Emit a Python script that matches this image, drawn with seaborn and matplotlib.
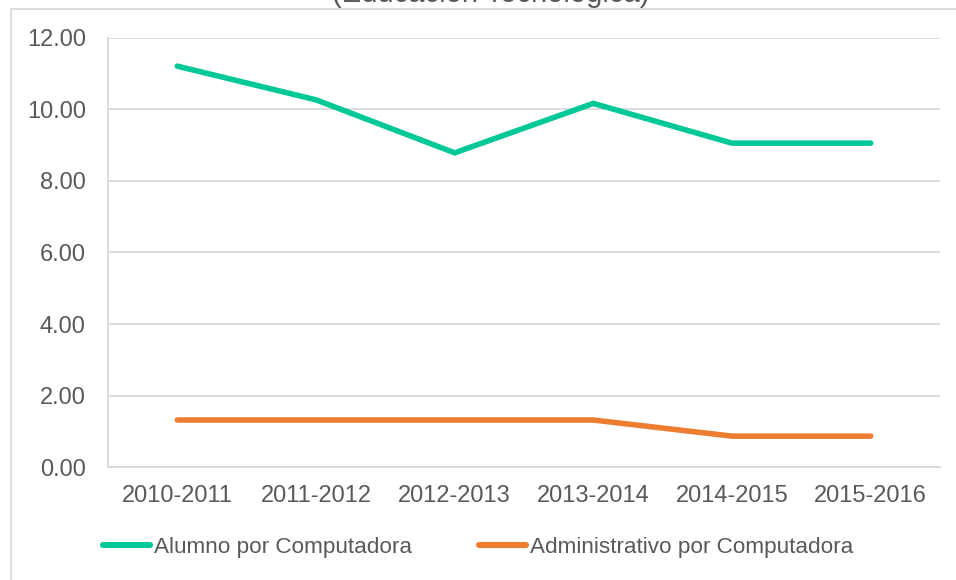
import matplotlib
matplotlib.use("Agg")
import matplotlib.pyplot as plt
from matplotlib.patches import Rectangle
from matplotlib.ticker import FixedLocator, FormatStrFormatter
import seaborn as sns
import pandas as pd

# Ciclos escolares y relaciones por computadora
ciclos = ["2010-2011", "2011-2012", "2012-2013", "2013-2014", "2014-2015", "2015-2016"]
alumno_por_computadora = [11.20, 10.26, 8.78, 10.16, 9.05, 9.05]
administrativo_por_computadora = [1.32, 1.32, 1.32, 1.32, 0.87, 0.87]
series = ["Alumno por Computadora", "Administrativo por Computadora"]
y_ticks = [0, 2, 4, 6, 8, 10, 12]

df = pd.DataFrame({
    "ciclo": ciclos * 2,
    "pos": list(range(len(ciclos))) * 2,
    "valor": alumno_por_computadora + administrativo_por_computadora,
    "serie": [series[0]] * len(ciclos) + [series[1]] * len(ciclos),
})

sns.set_style("white")
plt.rcParams["font.family"] = ["Liberation Sans", "DejaVu Sans"]

GRID = "#d9d9d9"
TEXT = "#595959"

fig = plt.figure(figsize=(9.56, 5.8), dpi=100)
ax = fig.add_axes([108 / 956, 1 - 467.3 / 580, (940 - 108) / 956, (467.3 - 37.5) / 580])

sns.lineplot(
    data=df, x="pos", y="valor", hue="serie", hue_order=series,
    palette=["#00c896", "#ed7d31"], linewidth=4.0, ax=ax, sort=False,
    solid_capstyle="round", solid_joinstyle="miter",
)

ax.set_xlim(-0.5, len(ciclos) - 0.5)
ax.set_ylim(0, 12)
ax.set_xlabel("")
ax.set_ylabel("")

# Eje X: etiquetas centradas en cada categoría, marcas entre categorías
ax.xaxis.set_major_locator(FixedLocator(range(len(ciclos))))
ax.set_xticklabels(ciclos)
ax.xaxis.set_minor_locator(FixedLocator([i - 0.5 for i in range(len(ciclos) + 1)]))
ax.tick_params(axis="x", which="major", length=0, pad=13, labelsize=17, labelcolor=TEXT)
ax.tick_params(axis="x", which="minor", length=5, width=1.3, color=GRID, direction="out")

ax.set_yticks(y_ticks)
ax.yaxis.set_major_formatter(FormatStrFormatter("%.2f"))
ax.tick_params(axis="y", length=5, width=1.3, color=GRID, direction="out", pad=11,
               labelsize=17, labelcolor=TEXT)

ax.grid(axis="y", color=GRID, linewidth=1.3)
ax.grid(axis="x", visible=False)
ax.set_axisbelow(True)
for side in ("top", "right"):
    ax.spines[side].set_visible(False)
for side in ("left", "bottom"):
    ax.spines[side].set_color(GRID)
    ax.spines[side].set_linewidth(1.3)

leg = ax.legend(
    loc="center", bbox_to_anchor=(478 / 956, 1 - 547 / 580), bbox_transform=fig.transFigure,
    ncol=2, frameon=False, fontsize=16.2, handlelength=2.1, handletextpad=0.15,
    columnspacing=3.0,
)
for t in leg.get_texts():
    t.set_color(TEXT)
for h in leg.get_lines():
    h.set_linewidth(4.4)
    h.set_solid_capstyle("round")

# Marco del área del gráfico y título
fig.patches.append(Rectangle((11 / 956, -0.1), 1.2, 1 - 9 / 580 + 0.1,
                             transform=fig.transFigure, fill=False,
                             edgecolor=GRID, linewidth=1.3))
fig.text(491 / 956, 1 - 1.5 / 580, "(Educación Tecnológica)", ha="center", va="baseline",
         fontsize=21, color=TEXT)

fig.savefig("out.png", dpi=100)
